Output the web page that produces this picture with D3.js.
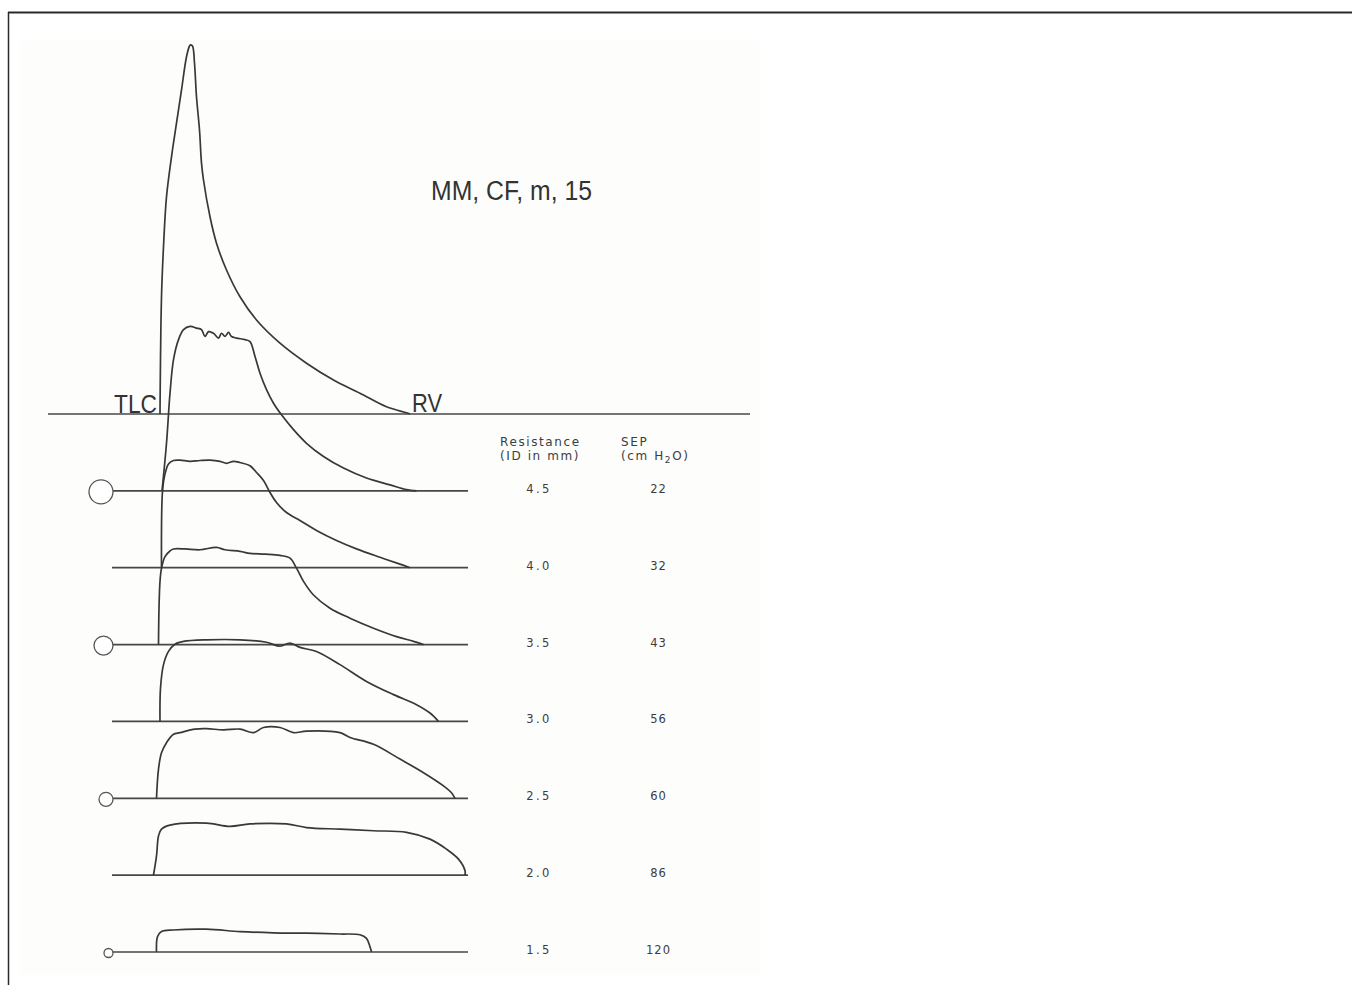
<!DOCTYPE html>
<html>
<head>
<meta charset="utf-8">
<script src="https://cdn.jsdelivr.net/npm/d3@7/dist/d3.min.js"></script>
<style>
  html, body { margin: 0; padding: 0; background: #fff; }
  svg { display: block; }
</style>
</head>
<body>
<div id="chart"></div>
<script>
// runs: unrestricted manoeuvre then each added resistance (orifice ID in mm)
const runs = ["free", "4.5", "4.0", "3.5", "3.0", "2.5", "2.0", "1.5"];
const resistanceLabels = ["4.5", "4.0", "3.5", "3.0", "2.5", "2.0", "1.5"];
const sepValues = ["22", "32", "43", "56", "60", "86", "120"];
const orificeRuns = ["4.5", "3.5", "2.5", "1.5"];

// flow-volume traces: [volume from TLC (L), flow (L/s)]
const curveFree = [[0,0],[0.03,2.93],[0.07,4.18],[0.13,5.43],[0.23,6.43],[0.33,7.27],[0.43,8.1],[0.53,8.93],
  [0.59,9.2],[0.61,9.23],[0.65,9.2],[0.69,8.77],[0.73,7.93],[0.79,7.1],[0.83,6.27],[0.87,5.85],[1.0,4.93],
  [1.13,4.27],[1.33,3.6],[1.6,2.93],[1.93,2.35],[2.4,1.77],[2.93,1.27],[3.47,0.85],[4.0,0.52],[4.53,0.18],
  [4.93,0.03],[5.0,0]];
const curve45 = [[0.04,0],[0.13,1.19],[0.2,2.44],[0.27,3.28],[0.37,3.78],[0.47,4.03],[0.6,4.11],[0.73,4.07],
  [0.83,4.03],[0.9,3.86],[0.97,3.98],[1.07,3.94],[1.17,3.82],[1.23,3.94],[1.3,3.86],[1.37,3.96],[1.43,3.86],
  [1.53,3.82],[1.7,3.78],[1.8,3.73],[1.9,3.36],[2.0,2.94],[2.13,2.53],[2.27,2.19],[2.43,1.9],[2.67,1.53],
  [2.93,1.19],[3.27,0.86],[3.67,0.57],[4.13,0.32],[4.6,0.15],[4.93,0.03],[5.13,0]];
const curve40 = [[0.03,0],[0.05,1.91],[0.1,2.34],[0.17,2.59],[0.27,2.68],[0.4,2.69],[0.6,2.66],[0.8,2.68],
  [1.0,2.69],[1.2,2.66],[1.33,2.61],[1.47,2.66],[1.6,2.63],[1.8,2.55],[1.93,2.38],[2.07,2.18],[2.2,1.88],
  [2.33,1.63],[2.53,1.38],[2.8,1.18],[3.13,0.93],[3.53,0.68],[3.93,0.47],[4.4,0.26],[4.8,0.09],[5.0,0]];
const curve35 = [[-0.03,0],[-0.02,0.91],[0,1.58],[0.03,1.91],[0.1,2.2],[0.2,2.34],[0.27,2.39],[0.5,2.39],
  [0.8,2.37],[1.13,2.43],[1.3,2.37],[1.6,2.33],[1.8,2.28],[2.1,2.26],[2.4,2.23],[2.6,2.16],[2.73,1.91],
  [2.87,1.58],[3.07,1.24],[3.4,0.91],[3.8,0.66],[4.27,0.41],[4.73,0.2],[5.07,0.08],[5.27,0]];
const curve30 = [[0,0],[0.01,0.83],[0.07,1.42],[0.17,1.75],[0.3,1.93],[0.47,2.0],[0.93,2.04],[1.6,2.04],
  [2.13,1.98],[2.4,1.88],[2.6,1.96],[2.8,1.85],[3.13,1.75],[3.6,1.42],[4.13,1.0],[4.67,0.67],[5.13,0.42],
  [5.4,0.21],[5.57,0]];
const curve25 = [[-0.07,0],[-0.03,0.73],[0.03,1.14],[0.13,1.39],[0.27,1.6],[0.4,1.64],[0.7,1.73],[0.93,1.74],
  [1.27,1.71],[1.6,1.73],[1.87,1.64],[2.07,1.77],[2.4,1.77],[2.67,1.64],[2.93,1.68],[3.6,1.64],[3.8,1.52],
  [4.27,1.35],[4.8,0.98],[5.27,0.64],[5.67,0.31],[5.83,0.14],[5.9,0]];
const curve20 = [[-0.13,0],[-0.07,0.48],[-0.03,0.98],[0.03,1.15],[0.2,1.25],[0.93,1.3],[1.4,1.22],[1.8,1.28],
  [2.53,1.28],[2.93,1.19],[3.6,1.15],[4.27,1.11],[4.93,1.07],[5.4,0.9],[5.73,0.65],[5.97,0.4],[6.1,0.11],[6.1,0]];
const curve15 = [[-0.07,0],[-0.05,0.38],[0.03,0.51],[0.27,0.55],[0.93,0.57],[1.6,0.51],[2.27,0.48],[2.93,0.47],
  [3.6,0.45],[4.0,0.43],[4.13,0.34],[4.2,0.13],[4.23,0]];

const curves = [curveFree, curve45, curve40, curve35, curve30, curve25, curve20, curve15];

const width = 1352, height = 985;
const ink = "#383838";

const svg = d3.select("#chart").append("svg")
  .attr("width", width)
  .attr("height", height);

// faint paper tone of the scanned figure
svg.append("rect")
  .attr("x", 20).attr("y", 40).attr("width", 740).attr("height", 935)
  .attr("fill", "#fdfdfc");

// frame
svg.append("line").attr("x1", 8).attr("x2", width).attr("y1", 12.5).attr("y2", 12.5)
  .attr("stroke", "#2a2a2a").attr("stroke-width", 2);
svg.append("line").attr("x1", 8.5).attr("x2", 8.5).attr("y1", 12).attr("y2", height)
  .attr("stroke", "#2a2a2a").attr("stroke-width", 1.5);

// scales
const x = d3.scaleLinear().domain([0, 6]).range([160, 460]);
const row = d3.scalePoint().domain(runs).range([414, 952]);
const flow = d3.scaleLinear().domain([0, 10]).range([0, 400]);
const orificeR = d3.scaleLinear().domain([1.5, 4.5]).range([4.5, 12]);

// baselines (zero flow)
const baseExtent = d => d === "free" ? [-2.24, 11.8] : [-0.96, 6.16];
svg.append("g").selectAll("line")
  .data(runs)
  .join("line")
  .attr("x1", d => x(baseExtent(d)[0]))
  .attr("x2", d => x(baseExtent(d)[1]))
  .attr("y1", d => row(d))
  .attr("y2", d => row(d))
  .attr("stroke", "#474747")
  .attr("stroke-width", 1.7);

// orifice symbols
svg.append("g").selectAll("circle")
  .data(orificeRuns)
  .join("circle")
  .attr("cx", d => x(-0.96) - orificeR(+d) + 1)
  .attr("cy", d => row(d) + 1)
  .attr("r", d => orificeR(+d))
  .attr("fill", "#fff")
  .attr("stroke", "#555")
  .attr("stroke-width", 1.3);

// traces
const line = d3.line()
  .x(d => x(d[0]))
  .y(d => -flow(d[1]))
  .curve(d3.curveCatmullRom.alpha(0.5));

svg.append("g").selectAll("path")
  .data(curves)
  .join("path")
  .attr("transform", (d, i) => `translate(0,${row(runs[i])})`)
  .attr("d", line)
  .attr("fill", "none")
  .attr("stroke", ink)
  .attr("stroke-width", 1.7)
  .attr("stroke-linejoin", "round");

// lung volume labels
const bigFont = "'Liberation Sans', Arial, sans-serif";
svg.append("text")
  .attr("x", 114).attr("y", row("free") - 1)
  .attr("font-family", bigFont).attr("font-size", 26)
  .attr("textLength", 43).attr("lengthAdjust", "spacingAndGlyphs")
  .attr("fill", "#333")
  .text("TLC");
svg.append("text")
  .attr("x", 412).attr("y", row("free") - 2)
  .attr("font-family", bigFont).attr("font-size", 26)
  .attr("textLength", 30).attr("lengthAdjust", "spacingAndGlyphs")
  .attr("fill", "#333")
  .text("RV");

// subject tag
svg.append("text")
  .attr("x", 431).attr("y", 200)
  .attr("font-family", bigFont).attr("font-size", 27)
  .attr("textLength", 161).attr("lengthAdjust", "spacingAndGlyphs")
  .attr("fill", "#333")
  .text("MM, CF, m, 15");

// table
const smallFont = "'DejaVu Sans', sans-serif";
const colRes = 538, colSep = 658;
const header = svg.append("g")
  .attr("font-family", smallFont)
  .attr("font-size", 12)
  .attr("fill", "#3c3c3c")
  .attr("letter-spacing", 1.6);
header.append("text").attr("x", 500).attr("y", 446).text("Resistance");
header.append("text").attr("x", 500).attr("y", 460).text("(ID in mm)");
header.append("text").attr("x", 621).attr("y", 446).text("SEP");
const cm = header.append("text").attr("x", 621).attr("y", 460);
cm.append("tspan").text("(cm H");
cm.append("tspan").attr("font-size", 9).attr("dy", 3).text("2");
cm.append("tspan").attr("dy", -3).text("O)");

const table = svg.append("g")
  .attr("font-family", smallFont)
  .attr("font-size", 11.5)
  .attr("fill", "#3c3c3c")
  .attr("text-anchor", "middle");

table.selectAll(".res")
  .data(resistanceLabels)
  .join("text")
  .attr("class", "res")
  .attr("x", colRes + 1)
  .attr("y", d => row(d) + 2)
  .attr("letter-spacing", 2.4)
  .text(d => d);

table.selectAll(".sep")
  .data(sepValues)
  .join("text")
  .attr("class", "sep")
  .attr("x", colSep + 0.5)
  .attr("y", (d, i) => row(resistanceLabels[i]) + 2)
  .attr("letter-spacing", 1)
  .text(d => d);
</script>
</body>
</html>
